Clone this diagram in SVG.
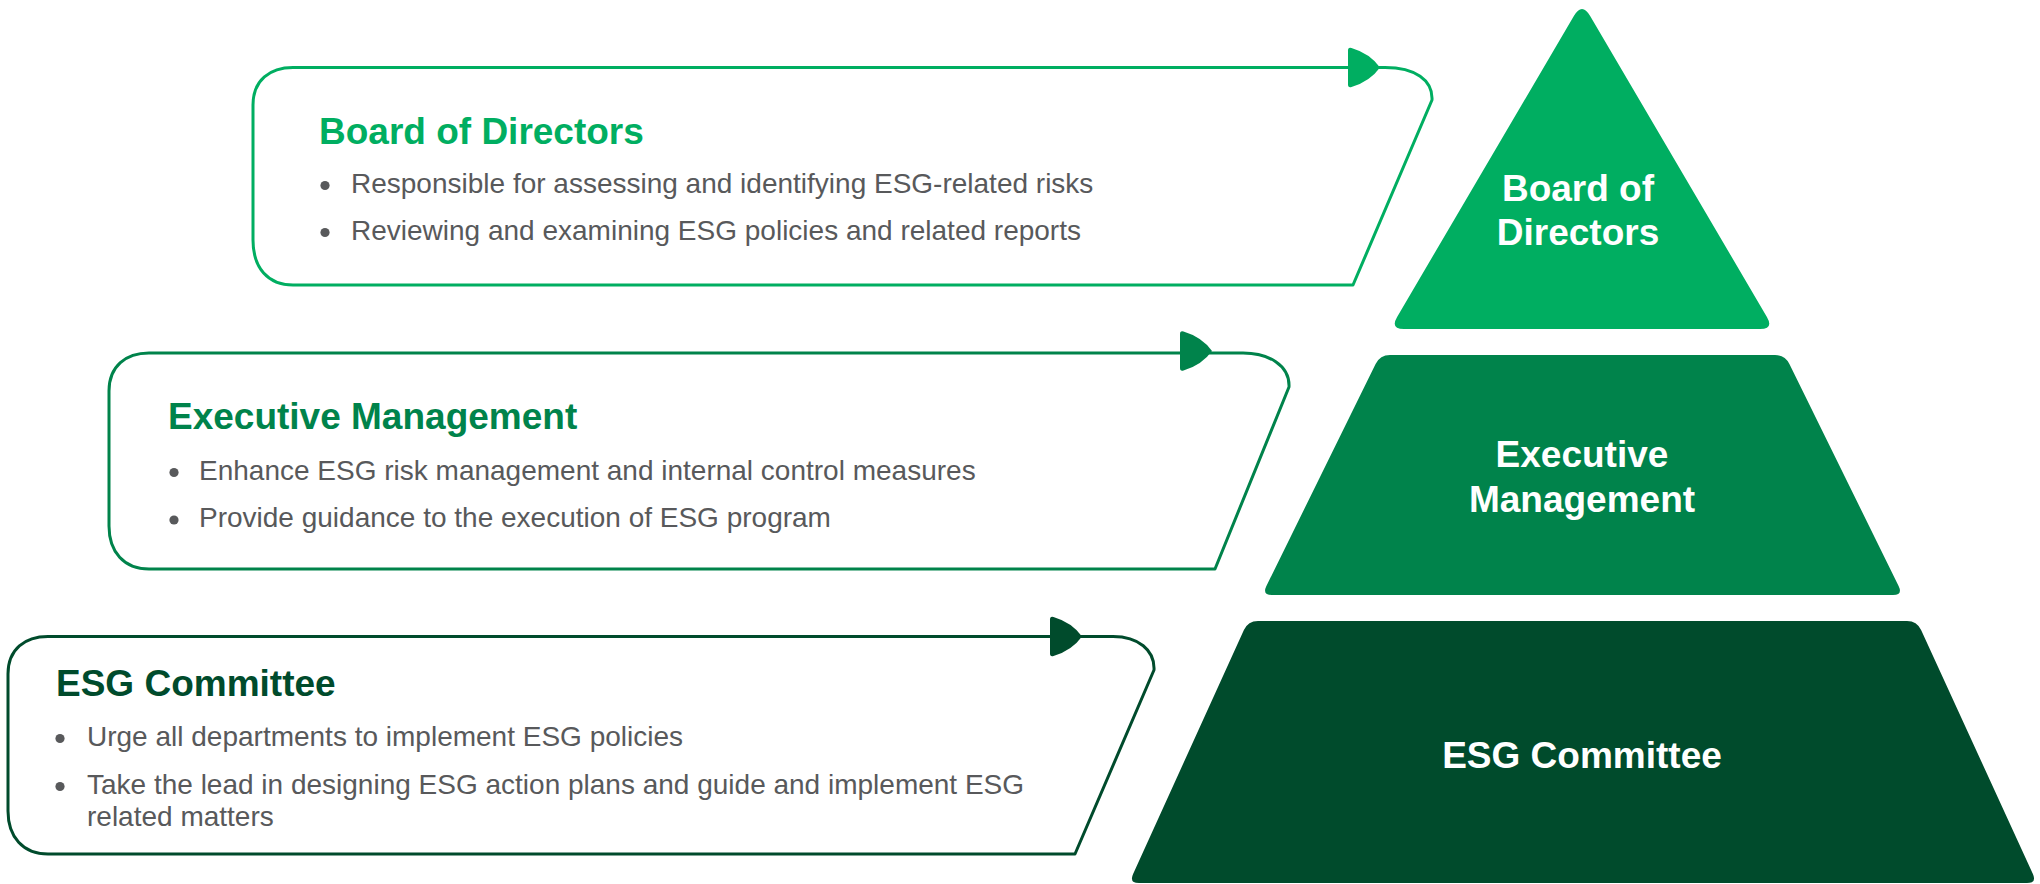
<svg xmlns="http://www.w3.org/2000/svg" width="2040" height="884" viewBox="0 0 2040 884">
<defs>
<style>
.title{font-family:"Liberation Sans",Arial,sans-serif;font-weight:bold;font-size:37px}
.body{font-family:"Liberation Sans",Arial,sans-serif;font-size:28px;fill:#58595B}
.ptext{font-family:"Liberation Sans",Arial,sans-serif;font-weight:bold;font-size:37px;fill:#FFFFFF;text-anchor:middle}
.box{fill:#FFFFFF;stroke-width:3;stroke-linejoin:round}
.dot{fill:#58595B}
</style>
<path id="arrowhead" d="M0,-17 Q0,-20.5 3.5,-19.5 Q22,-14 32,0 Q22,14 3.5,19.5 Q0,20.5 0,17 Z"/>
</defs>
<rect width="2040" height="884" fill="#FFFFFF"/>

<g id="callout-board">
<path class="box" stroke="#00AE61" d="M253,105 C253,80 270,67.5 293,67.5 L1385,67.5 C1415,67.5 1433,80 1432,100 L1353,285 L293,285 C268,285 253,268 253,240 Z"/>
<use href="#arrowhead" transform="translate(1348,67.5)" fill="#00AE61"/>
<text class="title" x="319" y="143.5" fill="#00AE61">Board of Directors</text>
<circle class="dot" cx="325" cy="185.5" r="4.6"/>
<text class="body" x="351" y="192.5">Responsible for assessing and identifying ESG-related risks</text>
<circle class="dot" cx="325" cy="232.5" r="4.6"/>
<text class="body" x="351" y="239.5">Reviewing and examining ESG policies and related reports</text>
</g>

<g id="callout-executive">
<path class="box" stroke="#00834B" d="M109,391 C109,366 126,353 149,353 L1243,353 C1268,353 1290,365 1289,387 L1215,569 L149,569 C124,569 109,552 109,526 Z"/>
<use href="#arrowhead" transform="translate(1180,351)" fill="#00834B"/>
<text class="title" x="168" y="429" fill="#00834B">Executive Management</text>
<circle class="dot" cx="174" cy="472.5" r="4.6"/>
<text class="body" x="199" y="479.5">Enhance ESG risk management and internal control measures</text>
<circle class="dot" cx="174" cy="520" r="4.6"/>
<text class="body" x="199" y="527">Provide guidance to the execution of ESG program</text>
</g>

<g id="callout-esg">
<path class="box" stroke="#004B2C" d="M8,674 C8,649 25,636.5 48,636.5 L1113,636.5 C1138,636.5 1155,650 1154,670 L1075,854 L48,854 C23,854 8,837 8,811 Z"/>
<use href="#arrowhead" transform="translate(1050,636.5)" fill="#004B2C"/>
<text class="title" x="56" y="696" fill="#004B2C">ESG Committee</text>
<circle class="dot" cx="60" cy="738.5" r="4.6"/>
<text class="body" x="87" y="745.5">Urge all departments to implement ESG policies</text>
<circle class="dot" cx="60" cy="786.5" r="4.6"/>
<text class="body" x="87" y="793.5">Take the lead in designing ESG action plans and guide and implement ESG</text>
<text class="body" x="87" y="825.5">related matters</text>
</g>

<g id="pyramid-board">
<path fill="#00AE61" d="M1574,15.8 Q1582,2 1590,15.8 L1766.9,316.9 Q1774,329 1760,329 L1404,329 Q1390,329 1397.1,316.9 Z"/>
<text class="ptext" x="1578" y="201">Board of</text>
<text class="ptext" x="1578" y="245">Directors</text>
</g>

<g id="pyramid-executive">
<path fill="#00834B" d="M1390,355 L1775,355 Q1785,355 1789.4,364 L1898.6,586 Q1903,595 1893,595 L1272,595 Q1262,595 1266.4,586 L1375.6,364 Q1380,355 1390,355 Z"/>
<text class="ptext" x="1582" y="467">Executive</text>
<text class="ptext" x="1582" y="512">Management</text>
</g>

<g id="pyramid-esg">
<path fill="#004B2C" d="M1258,621 L1907,621 Q1917,621 1921.1,630.1 L2032.9,873.9 Q2037,883 2027,883 L1139,883 Q1129,883 1133.1,873.9 L1243.9,630.1 Q1248,621 1258,621 Z"/>
<text class="ptext" x="1582" y="768">ESG Committee</text>
</g>

<g id="connectors"></g>
</svg>
